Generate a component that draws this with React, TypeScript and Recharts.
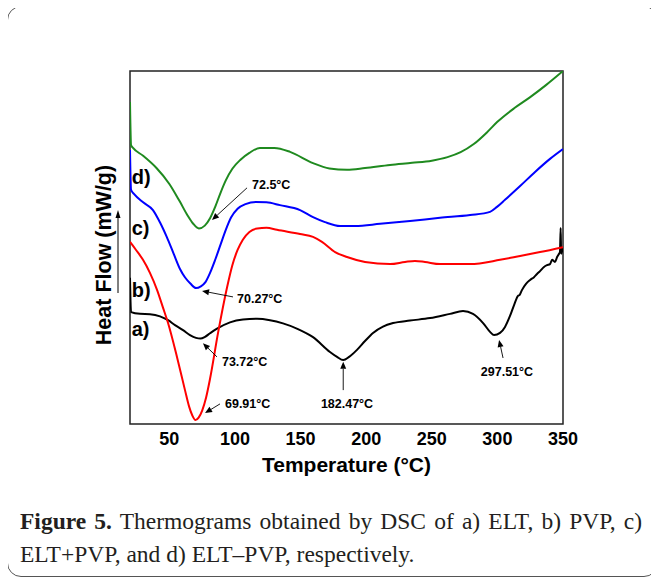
import { LineChart, Line, XAxis, YAxis, ReferenceLine, ReferenceDot, ReferenceArea } from 'recharts'

const X_TICKS = [50, 100, 150, 200, 250, 300, 350]

// [temperature °C, heat flow (arb. offset units)]
const curveA: [number, number][] = [
  [20.0, 41.4], [20.8, 31.7], [27.6, 31.2], [35.2, 31.1], [42.9, 30.5], [49.0, 29.4],
  [54.3, 28.0], [60.4, 26.6], [65.7, 25.2], [70.3, 24.4], [73.7, 24.2], [77.2, 24.7],
  [81.0, 25.7], [86.3, 27.0], [96.2, 28.8], [106.1, 29.6], [116.8, 29.8], [126.7, 29.4],
  [136.6, 28.5], [148.0, 26.9], [159.5, 24.6], [172.4, 20.4], [177.8, 19.0], [182.5, 18.1],
  [187.0, 19.0], [193.0, 21.0], [199.1, 23.5], [205.2, 25.8], [212.8, 27.6], [220.5, 28.6],
  [233.4, 29.3], [248.7, 30.0], [263.9, 31.2], [273.8, 32.0], [281.4, 31.2], [289.1, 28.6],
  [294.4, 26.1], [297.5, 25.2], [302.0, 25.8], [305.8, 27.5], [309.6, 30.6], [312.7, 33.7],
  [315.7, 36.3], [317.0, 36.6], [318.8, 38.0], [321.8, 39.7], [324.9, 40.8], [327.9, 41.6],
  [330.2, 42.5], [332.5, 43.3], [335.5, 44.5], [337.8, 45.0], [340.1, 45.3], [341.7, 46.5],
  [343.9, 45.9], [345.5, 47.3], [347.0, 48.2], [347.7, 48.7], [348.2, 55.5], [348.6, 48.2],
  [350.0, 50.1],
]

const curveB: [number, number][] = [
  [20.0, 51.6], [24.6, 49.3], [29.9, 46.5], [35.2, 42.8], [40.6, 38.0], [45.2, 32.9],
  [49.0, 28.6], [55.8, 19.0], [61.9, 9.6], [65.0, 5.0], [67.5, 2.4], [69.9, 1.1],
  [72.3, 1.8], [75.0, 3.8], [78.0, 7.5], [81.0, 12.8], [87.1, 25.8], [93.9, 38.6],
  [98.0, 45.0], [102.0, 49.3], [106.0, 52.2], [111.0, 54.4], [117.0, 55.4], [124.0, 55.6],
  [132.0, 55.0], [149.6, 53.8], [159.5, 53.0], [166.3, 51.6], [176.3, 48.7], [185.4, 47.3],
  [199.1, 45.9], [218.2, 45.3], [229.6, 45.9], [237.2, 46.2], [244.8, 45.9], [256.3, 45.3],
  [279.2, 45.3], [302.0, 46.5], [317.3, 47.6], [332.5, 48.7], [350.0, 50.1],
]

const curveC: [number, number][] = [
  [20.0, 77.6], [20.8, 66.3], [23.0, 65.2], [30.0, 62.8], [37.5, 60.6], [43.0, 57.0],
  [48.0, 53.0], [53.0, 48.5], [58.0, 44.0], [62.0, 41.5], [66.0, 39.8], [70.3, 38.5],
  [74.0, 39.0], [77.5, 40.2], [81.0, 42.8], [85.0, 46.6], [89.0, 50.8], [93.0, 55.0],
  [97.0, 58.5], [102.0, 61.0], [108.0, 62.3], [116.0, 62.9], [124.0, 62.8], [134.3, 62.0],
  [149.6, 60.6], [159.5, 58.6], [168.6, 57.2], [180.1, 56.1], [191.5, 56.1], [210.6, 56.7],
  [233.4, 57.5], [256.3, 58.4], [279.2, 59.2], [294.4, 60.1], [299.7, 61.5], [305.8, 63.5],
  [317.3, 67.4], [328.7, 71.4], [340.1, 75.1], [350.0, 77.9],
]

const curveD: [number, number][] = [
  [20.0, 91.2], [20.8, 79.0], [22.3, 78.2], [30.0, 76.0], [40.0, 72.6], [50.0, 68.0],
  [58.0, 63.0], [64.0, 59.0], [68.0, 56.8], [72.5, 55.4], [77.0, 56.2], [81.0, 58.3],
  [85.0, 61.6], [89.0, 65.5], [93.0, 69.0], [98.0, 72.3], [104.0, 74.8], [111.0, 76.8],
  [119.0, 78.2], [130.0, 78.2], [142.0, 77.1], [159.5, 73.9], [172.0, 72.4], [185.4, 72.0],
  [199.1, 72.5], [218.2, 73.4], [235.0, 74.0], [250.0, 74.6], [262.0, 75.6], [272.0, 77.0],
  [282.0, 79.3], [292.0, 82.6], [300.0, 85.6], [313.0, 89.5], [325.0, 92.6], [337.0, 96.0],
  [350.0, 100.0],
]

const SERIES = [
  { key: 'a', points: curveA, color: '#000000' },
  { key: 'c', points: curveC, color: '#0000ff' },
  { key: 'd', points: curveD, color: '#1f8a1f' },
  { key: 'b', points: curveB, color: '#ff0000' },
]

const CURVE_LABELS = [
  { text: 'd)', t: 21.3, v: 70.0 },
  { text: 'c)', t: 21.3, v: 55.5 },
  { text: 'b)', t: 21.3, v: 37.9 },
  { text: 'a)', t: 21.3, v: 27.0 },
]

const PEAKS = [
  { text: '72.5°C', tail: [109.2, 66.9], tip: [82.5, 57.8], at: [113.0, 67.7], anchor: 'start' },
  { text: '70.27°C', tail: [98.5, 36.0], tip: [74.9, 37.7], at: [101.6, 35.4], anchor: 'start' },
  { text: '73.72°C', tail: [86.3, 19.0], tip: [75.6, 22.9], at: [90.1, 17.6], anchor: 'start' },
  { text: '69.91°C', tail: [88.6, 5.7], tip: [77.2, 3.1], at: [92.4, 5.9], anchor: 'start' },
  { text: '182.47°C', tail: [182.5, 9.6], tip: [182.5, 17.6], at: [185.4, 5.9], anchor: 'middle' },
  { text: '297.51°C', tail: [304.3, 18.7], tip: [301.3, 23.8], at: [307.3, 14.7], anchor: 'middle' },
]

const FONT = "Arial, 'Liberation Sans', sans-serif"
const SERIF = "'Liberation Serif', 'Times New Roman', serif"

function Arrow(p: any) {
  const { x1, y1, x2, y2 } = p
  const a = Math.atan2(y2 - y1, x2 - x1)
  const L = 7
  const W = 3
  const bx = x2 - L * Math.cos(a)
  const by = y2 - L * Math.sin(a)
  const pts = `${x2},${y2} ${bx - W * Math.sin(a)},${by + W * Math.cos(a)} ${bx + W * Math.sin(a)},${by - W * Math.cos(a)}`
  return (
    <g>
      <line x1={x1} y1={y1} x2={bx} y2={by} stroke="#000" strokeWidth={0.9} />
      <polygon points={pts} fill="#000" />
    </g>
  )
}

export default function App() {
  return (
    <div
      style={{
        position: 'relative',
        marginTop: -2,
        marginLeft: -1,
        width: 651,
        height: 571,
        boxSizing: 'border-box',
        border: '1px solid #555',
        borderRadius: 14,
        background: '#fff',
      }}
    >
      <div style={{ position: 'absolute', left: 0, top: 0 }}>
        <LineChart width={600} height={480} margin={{ top: 64, right: 45, bottom: 13, left: 122 }}>
          <XAxis
            type="number"
            dataKey="t"
            domain={[20, 350]}
            ticks={X_TICKS}
            allowDataOverflow
            axisLine={false}
            tickLine={false}
            height={50}
            tick={{ fill: '#000', fontSize: 18, fontWeight: 700, fontFamily: FONT }}
            label={{
              value: 'Temperature (°C)',
              position: 'insideBottom',
              offset: 2,
              fill: '#000',
              fontSize: 21,
              fontWeight: 700,
              fontFamily: FONT,
            }}
          />
          <YAxis type="number" domain={[0, 100]} hide allowDataOverflow />
          <ReferenceArea x1={20} x2={350} y1={0} y2={100} fill="none" fillOpacity={0} stroke="#222" strokeWidth={1.5} />
          {SERIES.map((s) => (
            <Line
              key={s.key}
              data={s.points.map(([t, v]) => ({ t, v }))}
              dataKey="v"
              type="monotone"
              stroke={s.color}
              strokeWidth={2}
              dot={false}
              isAnimationActive={false}
            />
          ))}
          {PEAKS.map((pk) => (
            <ReferenceLine
              key={pk.text + '-arrow'}
              segment={[
                { x: pk.tail[0], y: pk.tail[1] },
                { x: pk.tip[0], y: pk.tip[1] },
              ]}
              shape={(p: any) => <Arrow {...p} />}
            />
          ))}
          {PEAKS.map((pk) => (
            <ReferenceDot
              key={pk.text}
              x={pk.at[0]}
              y={pk.at[1]}
              r={0}
              shape={(p: any) => (
                <text
                  x={p.cx}
                  y={p.cy}
                  dy="0.35em"
                  textAnchor={pk.anchor}
                  fontSize={12.5}
                  fontWeight={700}
                  fontFamily={FONT}
                  fill="#000"
                >
                  {pk.text}
                </text>
              )}
            />
          ))}
          {CURVE_LABELS.map((c) => (
            <ReferenceDot
              key={c.text}
              x={c.t}
              y={c.v}
              r={0}
              shape={(p: any) => (
                <text
                  x={p.cx}
                  y={p.cy}
                  dy="0.35em"
                  textAnchor="start"
                  fontSize={20}
                  fontWeight={700}
                  fontFamily={FONT}
                  fill="#000"
                >
                  {c.text}
                </text>
              )}
            />
          ))}
        </LineChart>
      </div>
      <svg width={125} height={480} style={{ position: 'absolute', left: 0, top: 0 }}>
        <text
          x={95}
          y={248}
          transform="rotate(-90 95 248)"
          textAnchor="middle"
          dy="0.35em"
          fontSize={21.5}
          fontWeight={700}
          fontFamily={FONT}
          fill="#000"
        >
          Heat Flow (mW/g)
        </text>
        <line x1={110} y1={286} x2={110} y2={209} stroke="#000" strokeWidth={1} />
        <polygon points="110,203 107.5,211 112.5,211" fill="#000" />
      </svg>
      <div
        style={{
          position: 'absolute',
          left: 12,
          top: 498,
          width: 622,
          fontFamily: SERIF,
          fontSize: 23.5,
          lineHeight: '33px',
          color: '#231f20',
        }}
      >
        <div style={{ textAlign: 'justify', textAlignLast: 'justify', whiteSpace: 'nowrap' as const }}>
          <b>Figure 5.</b> Thermograms obtained by DSC of a) ELT, b) PVP, c)
        </div>
        <div>ELT+PVP, and d) ELT–PVP, respectively.</div>
      </div>
    </div>
  )
}
